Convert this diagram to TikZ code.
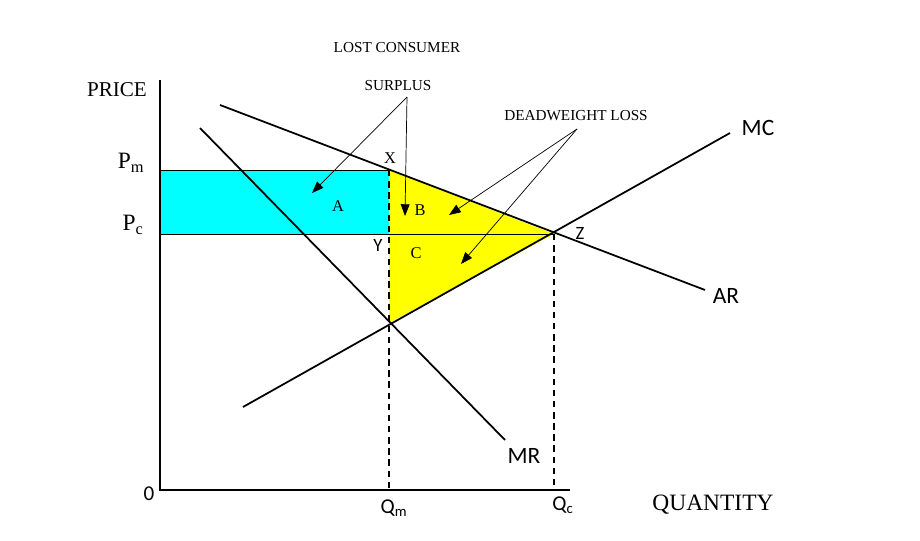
\documentclass[tikz,border=0pt]{standalone}
\usepackage{fontspec}
\setmainfont{Liberation Serif}
\newfontfamily\calibri{Carlito}
\usetikzlibrary{arrows.meta}
\definecolor{lostcyan}{RGB}{0,255,255}
\definecolor{dwlyellow}{RGB}{255,255,0}

\begin{document}
\begin{tikzpicture}[x=0.03cm,y=-0.03cm,
	curve/.style={line width=1.5pt},
	axis/.style={line width=1.2pt},
	guide/.style={line width=1.6pt, dash pattern=on 5.5pt off 4pt},
	pointer/.style={-{Triangle[length=10pt,width=7.5pt]}, line width=0.6pt},
	serifsmall/.style={inner sep=0pt, font=\fontsize{13}{13}\selectfont},
	seriflarge/.style={inner sep=0pt, font=\fontsize{18}{18}\selectfont},
	sanslabel/.style={inner sep=0pt, font=\calibri\fontsize{18}{18}\selectfont},
	curvelabel/.style={inner sep=0pt, font=\calibri\fontsize{20}{20}\selectfont}]

	\useasboundingbox (0,0) rectangle (920,541);

	%key points of the diagram (pixel units, y pointing down)
	\coordinate (origin) at (160,490);
	\coordinate (yTop) at (160,80);
	\coordinate (xEnd) at (570,490);
	\coordinate (pm) at (160,170);
	\coordinate (pc) at (160,234);
	\coordinate (ptX) at (389,170);
	\coordinate (ptY) at (389,234);
	\coordinate (ptZ) at (554,234);
	\coordinate (ptW) at (389,323);
	\coordinate (qm) at (389,490);
	\coordinate (qc) at (554,490);
	%curve end points
	\coordinate (arStart) at (220,105);
	\coordinate (arEnd) at (705,290);
	\coordinate (mcStart) at (243,407);
	\coordinate (mcEnd) at (730,133);
	\coordinate (mrStart) at (200,128);
	\coordinate (mrEnd) at (505,440);

	%surplus areas
	\fill[lostcyan] (pm) rectangle (ptY);
	\fill[dwlyellow] (ptX) -- (ptZ) -- (ptW) -- cycle;
	\draw[line width=0.8pt] (pm) -- (ptX);
	\draw[line width=0.8pt] (pc) -- (ptZ);

	%axes
	\draw[axis] (yTop) -- (origin) -- (xEnd);

	%demand, marginal revenue and marginal cost
	\draw[curve] (arStart) -- (arEnd);
	\draw[curve] (mcStart) -- (mcEnd);
	\draw[curve] (mrStart) -- (mrEnd);

	%quantity guides
	\draw[guide] (ptX) -- (qm);
	\draw[guide] (ptZ) -- (qc);

	%axis labels
	\node[seriflarge] (priceLabel) at (117,90) {PRICE};
	\node[font=\fontsize{20}{20}\selectfont, inner sep=0pt] (quantityLabel) at (713,505) {QUANTITY};
	\node[seriflarge, font=\fontsize{20}{20}\selectfont] (pmLabel) at (131,163) {P$_{\mathrm{m}}$};
	\node[seriflarge, font=\fontsize{20}{20}\selectfont] (pcLabel) at (133,225) {P$_{\mathrm{c}}$};
	\node[sanslabel] (zeroLabel) at (149,494) {0};
	\node[sanslabel] (qmLabel) at (394,508) {Q\textsubscript{m}};
	\node[sanslabel] (qcLabel) at (563,505) {Q\textsubscript{c}};

	%curve labels
	\node[curvelabel] (mcLabel) at (758,128) {MC};
	\node[curvelabel] (arLabel) at (726,296) {AR};
	\node[curvelabel] (mrLabel) at (524,456) {MR};

	%point and area labels
	\node[serifsmall, font=\fontsize{14}{14}\selectfont] (xLabel) at (390,158) {X};
	\node[sanslabel, font=\calibri\fontsize{16}{16}\selectfont] (yLabel) at (378,245) {Y};
	\node[sanslabel, font=\calibri\fontsize{16}{16}\selectfont] (zLabel) at (580,233) {Z};
	\node[serifsmall, font=\fontsize{14}{14}\selectfont] (aLabel) at (338,206) {A};
	\node[serifsmall, font=\fontsize{14}{14}\selectfont] (bLabel) at (420,210) {B};
	\node[serifsmall, font=\fontsize{14}{14}\selectfont] (cLabel) at (416,253) {C};

	%annotations
	\node[serifsmall] (lostLabel) at (397,48) {LOST CONSUMER};
	\node[serifsmall] (surplusLabel) at (398,86) {SURPLUS};
	\node[serifsmall] (dwlLabel) at (576,116) {DEADWEIGHT LOSS};
	\coordinate (surplusFork) at (407,97);
	\coordinate (aTip) at (312,193);
	\coordinate (bTip) at (405,216);
	\coordinate (dwlFork) at (577,129);
	\coordinate (bDwlTip) at (449,215);
	\coordinate (cTip) at (461,264);
	\draw[pointer] (surplusFork) -- (aTip);
	\draw[pointer] (surplusFork) -- (bTip);
	\draw[pointer] (dwlFork) -- (bDwlTip);
	\draw[pointer] (dwlFork) -- (cTip);

\end{tikzpicture}
\end{document}
